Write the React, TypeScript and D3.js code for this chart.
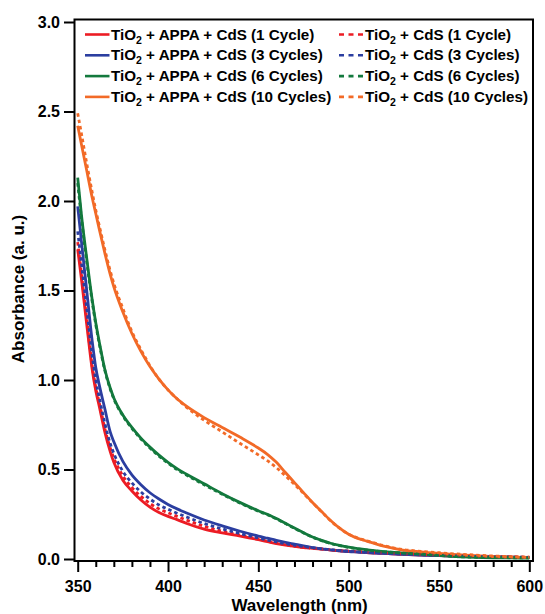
import React, { useRef, useEffect } from "react";
import * as d3 from "d3";

// wavelength grid (nm) shared by every spectrum
const wavelengths = [
  350, 352, 355, 358, 360, 362, 365, 368, 370, 375, 380, 385, 390, 395, 400, 405, 410,
  420, 430, 440, 450, 455, 460, 465, 470, 475, 480, 485, 490, 495, 500, 505, 510, 520,
  530, 540, 550, 560, 570, 580, 590, 600,
];

// TiO2 + APPA + CdS
const appa1 = [
  1.73, 1.57, 1.31, 1.06, 0.94, 0.85, 0.71, 0.6, 0.54, 0.44, 0.38, 0.33, 0.29, 0.26, 0.238,
  0.22, 0.2, 0.167, 0.146, 0.128, 0.108, 0.097, 0.086, 0.077, 0.07, 0.064, 0.06, 0.055, 0.05,
  0.046, 0.042, 0.04, 0.036, 0.031, 0.026, 0.022, 0.019, 0.017, 0.014, 0.012, 0.01, 0.008,
];
const appa3 = [
  1.97, 1.78, 1.5, 1.22, 1.07, 0.97, 0.84, 0.71, 0.655, 0.545, 0.47, 0.415, 0.37, 0.335, 0.305,
  0.28, 0.258, 0.218, 0.185, 0.155, 0.128, 0.116, 0.104, 0.093, 0.083, 0.073, 0.064, 0.057,
  0.051, 0.046, 0.042, 0.039, 0.036, 0.031, 0.026, 0.022, 0.019, 0.016, 0.014, 0.012, 0.01, 0.009,
];
const appa6 = [
  2.13, 1.93, 1.68, 1.45, 1.32, 1.21, 1.06, 0.955, 0.9, 0.805, 0.735, 0.675, 0.625, 0.58, 0.54,
  0.505, 0.475, 0.42, 0.365, 0.315, 0.27, 0.25, 0.226, 0.2, 0.173, 0.147, 0.123, 0.104, 0.088,
  0.076, 0.066, 0.058, 0.052, 0.041, 0.034, 0.028, 0.021, 0.013, 0.009, 0.007, 0.006, 0.005,
];
const appa10 = [
  2.42, 2.32, 2.17, 2.02, 1.93, 1.84, 1.71, 1.59, 1.52, 1.38, 1.26, 1.16, 1.075, 1.005, 0.945,
  0.895, 0.855, 0.79, 0.735, 0.68, 0.62, 0.585, 0.54, 0.483, 0.427, 0.371, 0.316, 0.265, 0.215,
  0.172, 0.138, 0.115, 0.1, 0.07, 0.05, 0.04, 0.032, 0.025, 0.019, 0.014, 0.011, 0.009,
];

// TiO2 + CdS
const plain1 = [
  1.77, 1.6, 1.34, 1.08, 0.96, 0.87, 0.73, 0.62, 0.565, 0.465, 0.4, 0.35, 0.31, 0.28, 0.258,
  0.238, 0.218, 0.183, 0.155, 0.133, 0.112, 0.1, 0.089, 0.079, 0.071, 0.065, 0.06, 0.056, 0.051,
  0.047, 0.044, 0.041, 0.038, 0.033, 0.028, 0.025, 0.022, 0.019, 0.016, 0.014, 0.012, 0.01,
];
const plain3 = [
  1.83, 1.66, 1.4, 1.14, 1.0, 0.9, 0.76, 0.645, 0.59, 0.49, 0.425, 0.375, 0.335, 0.302, 0.278,
  0.256, 0.236, 0.198, 0.168, 0.142, 0.118, 0.106, 0.095, 0.085, 0.077, 0.07, 0.063, 0.057,
  0.052, 0.047, 0.043, 0.04, 0.037, 0.032, 0.027, 0.023, 0.02, 0.017, 0.014, 0.012, 0.011, 0.009,
];
const plain6 = [
  2.1, 1.91, 1.66, 1.44, 1.31, 1.2, 1.055, 0.95, 0.895, 0.8, 0.73, 0.67, 0.62, 0.575, 0.535,
  0.5, 0.47, 0.415, 0.362, 0.312, 0.267, 0.247, 0.224, 0.198, 0.171, 0.146, 0.122, 0.103, 0.087,
  0.075, 0.065, 0.057, 0.05, 0.04, 0.033, 0.027, 0.02, 0.013, 0.01, 0.008, 0.007, 0.006,
];
const plain10 = [
  2.49, 2.38, 2.21, 2.05, 1.95, 1.86, 1.73, 1.61, 1.54, 1.4, 1.27, 1.17, 1.08, 1.005, 0.945,
  0.895, 0.85, 0.775, 0.71, 0.645, 0.582, 0.549, 0.51, 0.464, 0.417, 0.366, 0.315, 0.264, 0.214,
  0.172, 0.139, 0.117, 0.102, 0.073, 0.053, 0.043, 0.035, 0.028, 0.022, 0.017, 0.013, 0.01,
];

const cycleLabels = ["1 Cycle", "3 Cycles", "6 Cycles", "10 Cycles"];
const colors = ["#ec1c24", "#2b3ea0", "#13793d", "#f26a27"];
const solidSeries = [appa1, appa3, appa6, appa10];
const dashedSeries = [plain1, plain3, plain6, plain10];
const xTicks = [350, 400, 450, 500, 550, 600];
const yTicks = [0, 0.5, 1, 1.5, 2, 2.5, 3];

const FONT = "'Liberation Sans', Arial, Helvetica, sans-serif";

const App = () => {
  const ref = useRef<SVGSVGElement>(null);

  useEffect(() => {
    const svg = d3.select(ref.current);
    svg.selectAll("*").remove();

    const width = 545;
    const height = 614;
    const frame = { left: 74.5, top: 19.5, right: 533, bottom: 561 };

    const x = d3.scaleLinear().domain([350, 600]).range([77.7, 529.3]);
    const y = d3.scaleLinear().domain([0, 3]).range([559, 22]);

    svg.append("rect").attr("width", width).attr("height", height).attr("fill", "#fff");

    const line = d3
      .line<number>()
      .x((_, i) => x(wavelengths[i]))
      .y((d) => y(d))
      .curve(d3.curveMonotoneX);

    const curves = svg.append("g").attr("fill", "none").attr("stroke-width", 2.8);

    solidSeries.forEach((s, i) => {
      curves.append("path").attr("d", line(s)).attr("stroke", colors[i]);
    });
    dashedSeries.forEach((s, i) => {
      curves
        .append("path")
        .attr("d", line(s))
        .attr("stroke", colors[i])
        .attr("stroke-dasharray", "3.5,3");
    });

    // frame
    svg
      .append("rect")
      .attr("x", frame.left)
      .attr("y", frame.top)
      .attr("width", frame.right - frame.left)
      .attr("height", frame.bottom - frame.top)
      .attr("fill", "none")
      .attr("stroke", "#000")
      .attr("stroke-width", 2);

    // x axis: major + minor ticks
    const xMinor = d3.range(350, 601, 10).filter((v) => v % 50 !== 0);
    svg
      .append("g")
      .attr("transform", `translate(0,${frame.bottom})`)
      .call(d3.axisBottom(x).tickValues(xMinor).tickSize(6).tickFormat(() => ""))
      .call((g) => g.select(".domain").remove())
      .call((g) => g.selectAll("line").attr("stroke-width", 2));

    const xAxis = svg
      .append("g")
      .attr("transform", `translate(0,${frame.bottom})`)
      .call(d3.axisBottom(x).tickValues(xTicks).tickSize(11).tickFormat(d3.format("d")));
    xAxis.select(".domain").remove();
    xAxis.selectAll("line").attr("stroke-width", 2);
    xAxis
      .selectAll("text")
      .attr("y", 31)
      .attr("dy", 0)
      .attr("font-family", FONT)
      .attr("font-weight", "bold")
      .attr("font-size", 16)
      .attr("fill", "#000");

    // y axis
    const yAxis = svg
      .append("g")
      .attr("transform", `translate(${frame.left},0)`)
      .call(d3.axisLeft(y).tickValues(yTicks).tickSize(10.5).tickPadding(4).tickFormat(d3.format(".1f")));
    yAxis.select(".domain").remove();
    yAxis.selectAll("line").attr("stroke-width", 2);
    yAxis
      .selectAll("text")
      .attr("font-family", FONT)
      .attr("font-weight", "bold")
      .attr("font-size", 16)
      .attr("fill", "#000");

    // axis titles
    svg
      .append("text")
      .attr("x", 299.6)
      .attr("y", 611)
      .attr("text-anchor", "middle")
      .attr("font-family", FONT)
      .attr("font-weight", "bold")
      .attr("font-size", 17)
      .text("Wavelength (nm)");

    svg
      .append("text")
      .attr("transform", "translate(24,289) rotate(-90)")
      .attr("text-anchor", "middle")
      .attr("font-family", FONT)
      .attr("font-weight", "bold")
      .attr("font-size", 17)
      .text("Absorbance (a. u.)");

    // legend
    const legend = svg.append("g").attr("font-family", FONT).attr("font-weight", "bold").attr("font-size", 15.2);
    const rowY = (i: number) => 34.5 + i * 20.8;
    const columns = [
      { x0: 85, x1: 109.5, tx: 111, mid: " + APPA + CdS (", dash: null as string | null },
      { x0: 339, x1: 363, tx: 365, mid: " + CdS (", dash: "5,4.5" },
    ];
    columns.forEach((col) => {
      cycleLabels.forEach((lab, i) => {
        const ln = legend
          .append("line")
          .attr("x1", col.x0)
          .attr("x2", col.x1)
          .attr("y1", rowY(i))
          .attr("y2", rowY(i))
          .attr("stroke", colors[i])
          .attr("stroke-width", 2.6);
        if (col.dash) ln.attr("stroke-dasharray", col.dash);
        const t = legend.append("text").attr("x", col.tx).attr("y", rowY(i) + 5);
        t.append("tspan").text("TiO");
        t.append("tspan").attr("font-size", 10.5).attr("dy", 4).text("2");
        t.append("tspan").attr("dy", -4).text(col.mid + lab + ")");
      });
    });
  }, []);

  return (
    <svg
      ref={ref}
      width={545}
      height={614}
      style={{ position: "absolute", left: 0, top: 0 }}
    />
  );
};

export default App;
